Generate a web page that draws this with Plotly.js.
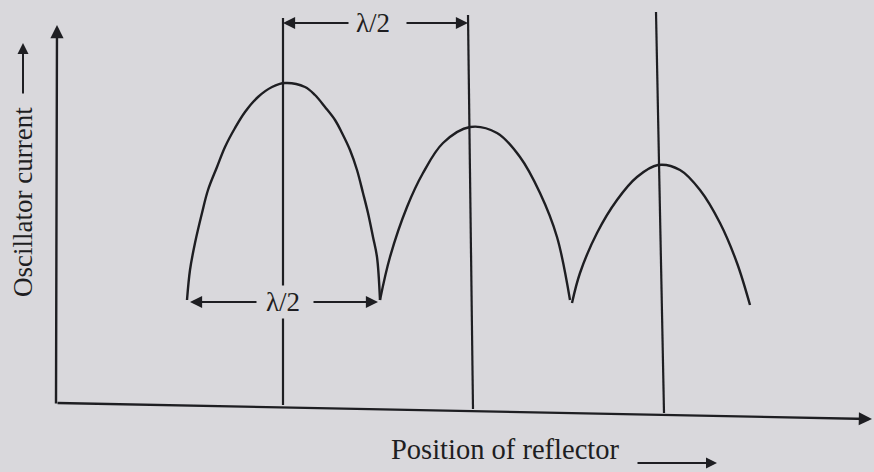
<!DOCTYPE html>
<html>
<head>
<meta charset="utf-8">
<script src="https://cdn.plot.ly/plotly-3.0.1.min.js"></script>
<style>
html,body{margin:0;padding:0;background:#d9d8dc;}
#chart{width:874px;height:472px;}
</style>
</head>
<body>
<div id="chart"></div>
<script>
// Reflector position (x) and oscillator current (y), arbitrary units
const mode1X = [1.30, 1.33, 1.38, 1.45, 1.51, 1.60, 1.68, 1.78, 1.88, 2.01, 2.15, 2.28, 2.48, 2.58, 2.68, 2.78, 2.85, 2.93, 3.00, 3.06, 3.11, 3.16, 3.20, 3.23];
const mode1Y = [1.05, 1.35, 1.62, 1.92, 2.15, 2.38, 2.58, 2.77, 2.93, 3.08, 3.18, 3.22, 3.18, 3.10, 2.98, 2.85, 2.72, 2.55, 2.35, 2.12, 1.92, 1.68, 1.48, 1.05];
const mode2X = [3.23, 3.33, 3.50, 3.66, 3.86, 4.13, 4.40, 4.63, 4.83, 5.00, 5.13];
const mode2Y = [1.05, 1.48, 1.98, 2.32, 2.62, 2.78, 2.72, 2.48, 2.12, 1.68, 1.05];
const mode3X = [5.15, 5.23, 5.40, 5.60, 5.80, 6.01, 6.23, 6.43, 6.63, 6.80, 6.93];
const mode3Y = [1.02, 1.32, 1.72, 2.05, 2.28, 2.40, 2.35, 2.15, 1.82, 1.42, 1.00];
// Peak (maximum) reflector positions: top and bottom ends of the marker lines
const peakTopX = [2.26, 4.11, 5.99];
const peakBottomX = [2.26, 4.16, 6.07];
const peakTopY = [3.87, 3.90, 3.93];
const peakBottomY = [0.00, -0.04, -0.08];
const halfWaveLabel = 'λ/2';
const xTitle = 'Position of reflector';
const yTitle = 'Oscillator current';

const BG = '#d9d8dc';
const INK = '#1e1e22';
const lineStyle = {color: INK, width: 2.4, shape: 'spline', smoothing: 1.0};

const traces = [
  {x: mode1X, y: mode1Y, mode: 'lines', line: lineStyle, hoverinfo: 'skip'},
  {x: mode2X, y: mode2Y, mode: 'lines', line: lineStyle, hoverinfo: 'skip'},
  {x: mode3X, y: mode3Y, mode: 'lines', line: lineStyle, hoverinfo: 'skip'}
];

const shapes = peakTopX.map((xt, i) => ({
  type: 'line', xref: 'x', yref: 'y',
  x0: xt, y0: peakTopY[i], x1: peakBottomX[i], y1: peakBottomY[i],
  line: {color: INK, width: 2.2}, layer: 'below'
}));

function arrow(xh, yh, xt, yt, w) {
  return {x: xh, y: yh, ax: xt, ay: yt, xref: 'x', yref: 'y', axref: 'x', ayref: 'y',
    text: '', showarrow: true, arrowhead: 2, arrowsize: 1.1, arrowwidth: w || 2.2,
    arrowcolor: INK, standoff: 0, startstandoff: 0};
}
const serif = 'Liberation Serif, DejaVu Serif, serif';
const annotations = [
  // axes
  arrow(0.00, 3.80, -0.01, 0.00, 2.4),
  arrow(8.15, -0.14, -0.01, 0.02, 2.4),
  // top λ/2 dimension between first and second maxima
  arrow(peakTopX[0], 3.82, 2.93, 3.82),
  arrow(peakTopX[1], 3.82, 3.48, 3.82),
  {x: 3.16, y: 3.82, xref: 'x', yref: 'y', text: halfWaveLabel, showarrow: false,
   font: {family: serif, size: 27, color: INK}},
  // bottom λ/2 dimension between first and second minima
  arrow(mode1X[0] + 0.03, 1.03, 2.01, 1.03),
  arrow(mode2X[0] - 0.02, 1.03, 2.55, 1.03),
  {x: 2.26, y: 1.03, xref: 'x', yref: 'y', text: halfWaveLabel, showarrow: false,
   bgcolor: BG, borderpad: 1,
   font: {family: serif, size: 27, color: INK}},
  // axis titles
  {x: 4.48, y: -0.44, xref: 'x', yref: 'y', text: xTitle, showarrow: false,
   font: {family: serif, size: 28.5, color: INK}},
  arrow(6.60, -0.58, 5.79, -0.58, 2),
  {x: -0.34, y: 2.03, xref: 'x', yref: 'y', text: yTitle, showarrow: false, textangle: -90,
   font: {family: serif, size: 27, color: INK}},
  arrow(-0.34, 3.62, -0.34, 3.10, 2)
];

const layout = {
  width: 874, height: 472,
  margin: {l: 0, r: 0, t: 0, b: 0},
  paper_bgcolor: BG, plot_bgcolor: BG,
  showlegend: false,
  xaxis: {range: [-0.57, 8.17], visible: false, fixedrange: true},
  yaxis: {range: [-0.67, 4.05], visible: false, fixedrange: true},
  shapes: shapes,
  annotations: annotations
};

Plotly.newPlot('chart', traces, layout, {staticPlot: true});
</script>
</body>
</html>
